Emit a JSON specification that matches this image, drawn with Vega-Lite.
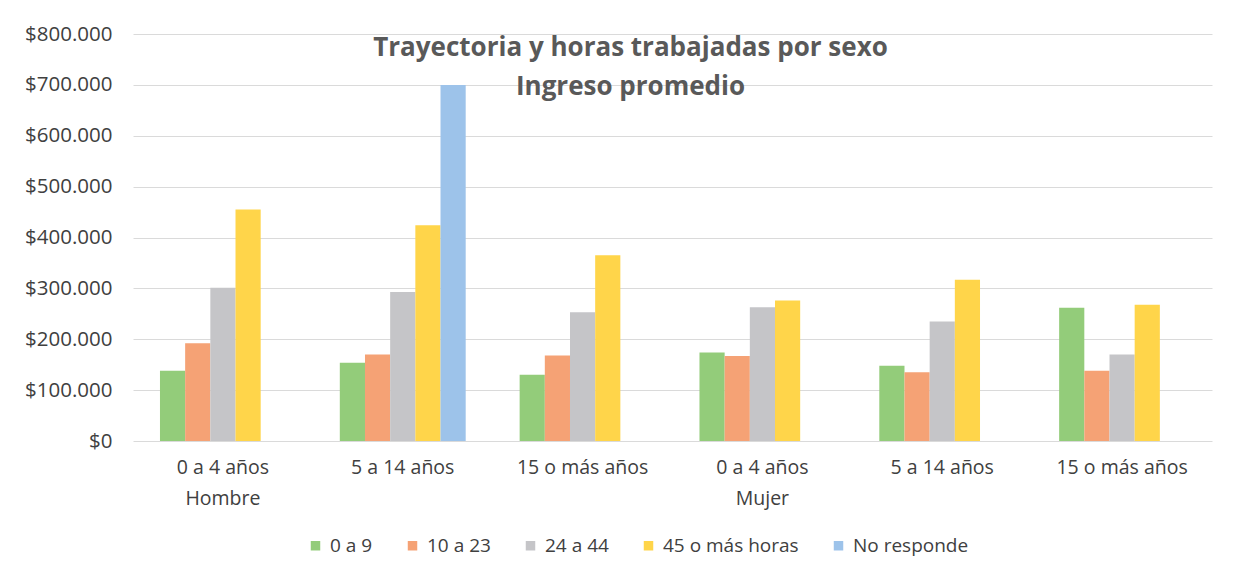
{
  "$schema": "https://vega.github.io/schema/vega-lite/v6.json",
  "autosize": {"type": "none"},
  "width": 1079,
  "height": 407,
  "padding": {"left": 133, "top": 34, "right": 45, "bottom": 140},
  "background": "white",
  "title": {
    "text": ["Trayectoria y horas trabajadas por sexo", "Ingreso promedio"],
    "orient": "top",
    "anchor": "middle",
    "frame": "group",
    "offset": -76,
    "dx": -42,
    "fontSize": 26,
    "font": "Open Sans",
    "fontWeight": "bold",
    "color": "#595959",
    "lineHeight": 39
  },
  "config": {
    "locale": {
      "number": {"decimal": ",", "thousands": ".", "grouping": [3], "currency": ["$", ""]}
    },
    "view": {"stroke": null},
    "font": "Open Sans"
  },
  "data": {
    "values": [
      {"cat": "Hombre|0 a 4 años", "serie": "0 a 9", "valor": 138000},
      {"cat": "Hombre|0 a 4 años", "serie": "10 a 23", "valor": 192000},
      {"cat": "Hombre|0 a 4 años", "serie": "24 a 44", "valor": 301000},
      {"cat": "Hombre|0 a 4 años", "serie": "45 o más horas", "valor": 455000},
      {"cat": "Hombre|5 a 14 años", "serie": "0 a 9", "valor": 154000},
      {"cat": "Hombre|5 a 14 años", "serie": "10 a 23", "valor": 170000},
      {"cat": "Hombre|5 a 14 años", "serie": "24 a 44", "valor": 293000},
      {"cat": "Hombre|5 a 14 años", "serie": "45 o más horas", "valor": 424000},
      {"cat": "Hombre|5 a 14 años", "serie": "No responde", "valor": 700000},
      {"cat": "Hombre|15 o más años", "serie": "0 a 9", "valor": 130000},
      {"cat": "Hombre|15 o más años", "serie": "10 a 23", "valor": 168000},
      {"cat": "Hombre|15 o más años", "serie": "24 a 44", "valor": 253000},
      {"cat": "Hombre|15 o más años", "serie": "45 o más horas", "valor": 365000},
      {"cat": "Mujer|0 a 4 años", "serie": "0 a 9", "valor": 174000},
      {"cat": "Mujer|0 a 4 años", "serie": "10 a 23", "valor": 167000},
      {"cat": "Mujer|0 a 4 años", "serie": "24 a 44", "valor": 263000},
      {"cat": "Mujer|0 a 4 años", "serie": "45 o más horas", "valor": 276000},
      {"cat": "Mujer|5 a 14 años", "serie": "0 a 9", "valor": 148000},
      {"cat": "Mujer|5 a 14 años", "serie": "10 a 23", "valor": 135000},
      {"cat": "Mujer|5 a 14 años", "serie": "24 a 44", "valor": 235000},
      {"cat": "Mujer|5 a 14 años", "serie": "45 o más horas", "valor": 317000},
      {"cat": "Mujer|15 o más años", "serie": "0 a 9", "valor": 262000},
      {"cat": "Mujer|15 o más años", "serie": "10 a 23", "valor": 138000},
      {"cat": "Mujer|15 o más años", "serie": "24 a 44", "valor": 170000},
      {"cat": "Mujer|15 o más años", "serie": "45 o más horas", "valor": 268000}
    ]
  },
  "mark": {"type": "bar"},
  "encoding": {
    "x": {
      "field": "cat",
      "type": "nominal",
      "sort": null,
      "scale": {"paddingInner": 0.3, "paddingOuter": 0.15},
      "axis": {
        "title": null,
        "labelAngle": 0,
        "ticks": false,
        "domain": false,
        "labelFontSize": 19.5,
        "labelColor": "#404040",
        "labelPadding": 17,
        "labelLineHeight": 31,
        "labelExpr": "[split(datum.value, '|')[1], indexof(datum.value, '0 a 4') >= 0 ? split(datum.value, '|')[0] : '']"
      }
    },
    "xOffset": {
      "field": "serie",
      "type": "nominal",
      "scale": {"domain": ["0 a 9", "10 a 23", "24 a 44", "45 o más horas", "No responde"]}
    },
    "y": {
      "field": "valor",
      "type": "quantitative",
      "scale": {"domain": [0, 800000]},
      "axis": {
        "title": null,
        "format": "$,.0f",
        "values": [0, 100000, 200000, 300000, 400000, 500000, 600000, 700000, 800000],
        "labelOverlap": false,
        "domain": false,
        "ticks": false,
        "labelFontSize": 20.5,
        "labelColor": "#404040",
        "labelPadding": 21,
        "gridColor": "#dadada",
        "gridWidth": 1
      }
    },
    "color": {
      "field": "serie",
      "type": "nominal",
      "scale": {
        "domain": ["0 a 9", "10 a 23", "24 a 44", "45 o más horas", "No responde"],
        "range": ["#93cc7a", "#f5a275", "#c5c5c8", "#ffd54a", "#9dc3ea"]
      },
      "legend": {
        "title": null,
        "orient": "none",
        "direction": "horizontal",
        "legendX": 173,
        "legendY": 502,
        "symbolType": "square",
        "symbolSize": 90,
        "symbolStrokeWidth": 0,
        "labelFontSize": 19,
        "labelColor": "#404040",
        "columnPadding": 30,
        "labelOffset": 5
      }
    }
  }
}
